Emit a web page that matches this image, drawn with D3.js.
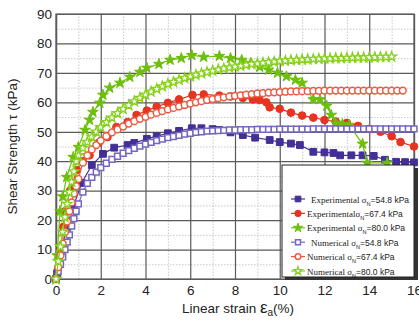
<!DOCTYPE html>
<html>
<head>
<meta charset="utf-8">
<script src="https://cdn.jsdelivr.net/npm/d3@7"></script>
<style>
  body { margin: 0; background: #fff; }
  text { font-family: "Liberation Sans", Arial, sans-serif; }
</style>
</head>
<body>
<div id="container"></div>
<script>
/* CONSTANTS AND GLOBALS */
const width = 419;
const height = 323;
const margin = { top: 14, right: 5, bottom: 44, left: 56 };

// EXPERIMENTAL SERIES - [strain %, shear strength kPa]
const exp548 = [[0,0],[0.05,2],[0.27,10],[0.48,17.7],[0.77,24.5],[1.15,32.6],[1.6,38.7],[2.1,42.5],[2.6,44.6],
  [3.2,45.5],[3.5,46.2],[4.06,47.6],[4.5,48.5],[5,49.5],[5.5,50.3],[6.07,51.2],[6.5,51.2],[7,50.9],[7.3,50.6],
  [7.8,49.8],[8.35,48.9],[8.9,48],[9.55,47.2],[10,46.5],[10.5,46],[10.9,45.5],[11.5,43.2],[12,43],[12.4,42.8],
  [12.7,42],[13.2,42],[13.7,42],[14.2,41.8],[14.7,40.5],[15.2,39.8],[15.6,39.7],[16,39.6]];

const exp674 = [[0,0],[0.1,4],[0.2,10],[0.33,17.7],[0.4,23],[0.63,30],[0.93,37],[1.2,40],[1.5,42],[1.9,46.2],
  [2.3,48.2],[2.7,51.6],[3.2,53.3],[3.6,55.7],[4.06,57.2],[4.5,58.5],[5,59.8],[5.5,61],[6.1,62.5],[6.6,62.7],
  [7.3,62.3],[7.8,62],[8.35,61.5],[8.8,61],[9.1,60.8],[9.4,60],[9.55,58.3],[10,57.8],[10.5,56.5],[11,55.5],
  [11.5,54.8],[12,54],[12.5,53.5],[13,53],[13.5,52],[14,51],[14.5,50],[15,48.5],[15.4,46.5],[16,45]];

const exp800 = [[0,0],[0.05,8],[0.18,23],[0.3,28],[0.48,34.6],[0.77,41.4],[1,44.8],[1.3,50.6],[1.5,54],
  [1.65,56.7],[1.96,59.8],[2.1,62.5],[2.4,64.9],[2.86,66.6],[3.3,68.6],[3.75,70.3],[4.06,71.7],[4.6,73],
  [5.1,74.4],[5.6,75],[6.07,76],[6.6,75.4],[7.3,75.7],[7.8,75],[8.3,74.4],[8.7,73.3],[9.1,72],[9.5,71],
  [9.9,70],[10.3,68.8],[10.7,67.6],[11,66.6],[11.5,61],[11.8,61],[12.1,58.8],[12.3,55.7],[12.5,53],
  [12.8,52.6],[13.1,52.3],[13.7,45.9],[13.9,39.4],[14.8,39.4]];

// NUMERICAL SERIES - shared strain values, shear strength per normal stress
const numStrain = [0,0.1,0.2,0.3,0.4,0.5,0.6,0.7,0.8,0.9,1,1.2,1.4,1.6,1.8,
  2,2.25,2.5,2.75,3,3.25,3.5,3.75,4,4.25,4.5,4.75,5,5.25,5.5,5.75,6,6.25,6.5,6.75,7,7.25,7.5,7.75,
  8,8.25,8.5,8.75,9,9.25,9.5,9.75,10,10.25,10.5,10.75,11,11.25,11.5,11.75,12,12.25,12.5,12.75,
  13,13.25,13.5,13.75,14,14.25,14.5,14.75,15,15.25,15.5,15.75,16];

const num548 = [0,2.5,5,7.5,10,12.5,15,18,20.5,23,25.5,29.5,32.5,34.5,36.3,
  37.8,39.3,40.6,41.7,42.7,43.6,44.4,45.1,45.8,46.4,47,47.5,48,48.4,48.8,49.2,49.5,49.8,50,50.2,50.3,50.4,50.5,50.6,
  50.6,50.7,50.7,50.7,50.8,50.8,50.8,50.8,50.9,50.9,50.9,50.9,50.9,50.9,51,51,51,51,51,51,
  51,51,51,51,51,51,51,51,51,51,51,51,51];

const num674 = [0,4,8,12,16,19.5,23,26,29,31.5,34,39.5,42,44,45.5,
  47,48.5,49.8,50.8,51.8,52.8,53.6,54.4,55.1,55.8,56.4,57,57.6,58.1,58.6,59.1,59.6,60,60.4,60.8,61.1,61.4,61.7,62,
  62.2,62.4,62.6,62.8,63,63.1,63.3,63.4,63.5,63.6,63.7,63.7,63.8,63.8,63.9,63.9,64,64,64,64,
  64,64,64,64,64,64,64,64,64,64,64];

const num800 = [0,6,11,16,21,25.5,29.5,33,36.5,40,42,44.5,46.5,48.3,50,
  51.5,53.2,54.8,56.3,57.7,59,60.3,61.5,62.6,63.6,64.5,65.4,66.2,66.9,67.6,68.2,68.8,69.3,69.8,70.3,70.7,71.1,71.5,71.8,
  72.1,72.4,72.7,73,73.2,73.4,73.6,73.8,74,74.1,74.3,74.4,74.5,74.6,74.7,74.8,74.9,74.9,75,75,
  75.1,75.1,75.2,75.2,75.3,75.3,75.4,75.4,75.5];

const legendNames = ["Experimental", "Experimental", "Experimental", "Numerical", "Numerical", "Numerical"];
const legendStress = ["=54.8 kPa", "=67.4 kPa", "=80.0 kPa", "=54.8 kPa", "=67.4 kPa", "=80.0 kPa"];

const pairs = ys => ys.map((y, i) => [numStrain[i], y]);

// series styling, same order as the legend
const series = [
  { data: exp548, shape: d3.symbolSquare, size: 46, color: "#432f96", fill: "#432f96", sw: 1 },
  { data: exp674, shape: d3.symbolCircle, size: 46, color: "#e5341f", fill: "#e5341f", sw: 1 },
  { data: exp800, shape: d3.symbolStar, size: 36, color: "#6cbf0a", fill: "#6cbf0a", sw: 1 },
  { data: pairs(num548), shape: d3.symbolSquare, size: 34, color: "#7566bf", fill: "#fff", sw: 1.5 },
  { data: pairs(num674), shape: d3.symbolCircle, size: 36, color: "#ec5a42", fill: "#fff", sw: 1.5 },
  { data: pairs(num800), shape: d3.symbolStar, size: 30, color: "#86d11c", fill: "#fff", sw: 1.3 }
];

// CREATE SVG
const svg = d3.select("#container")
  .append("svg")
  .attr("width", width)
  .attr("height", height);

/* SCALES */
const xScale = d3.scaleLinear()
  .domain([0, 16])
  .range([margin.left, width - margin.right]);

const yScale = d3.scaleLinear()
  .domain([0, 90])
  .range([height - margin.bottom, margin.top]);

// MINOR GRID (dotted)
svg.append("g")
  .attr("transform", "translate(0," + (height - margin.bottom) + ")")
  .call(d3.axisBottom(xScale).tickValues(d3.range(1, 16, 2)).tickSize(-(height - margin.top - margin.bottom)).tickFormat(""))
  .call(g => g.select(".domain").remove())
  .call(g => g.selectAll("line").attr("stroke", "#c8c8c8").attr("stroke-dasharray", "1.5,1.5"));

svg.append("g")
  .attr("transform", "translate(" + margin.left + ",0)")
  .call(d3.axisLeft(yScale).tickValues(d3.range(5, 90, 10)).tickSize(-(width - margin.left - margin.right)).tickFormat(""))
  .call(g => g.select(".domain").remove())
  .call(g => g.selectAll("line").attr("stroke", "#c8c8c8").attr("stroke-dasharray", "1.5,1.5"));

// MAJOR GRID + AXES
const xAxis = svg.append("g")
  .attr("transform", "translate(0," + (height - margin.bottom) + ")")
  .call(d3.axisBottom(xScale).tickValues(d3.range(0, 17, 2)).tickSize(-(height - margin.top - margin.bottom)).tickPadding(6));

const yAxis = svg.append("g")
  .attr("transform", "translate(" + margin.left + ",0)")
  .call(d3.axisLeft(yScale).tickValues(d3.range(0, 91, 10)).tickSize(-(width - margin.left - margin.right)).tickPadding(4));

[xAxis, yAxis].forEach(g => {
  g.selectAll("line").attr("stroke", "#5a5a5a").attr("stroke-width", 1.2);
  g.select(".domain").attr("stroke", "#5a5a5a").attr("stroke-width", 1.2);
  g.selectAll("text").attr("fill", "#222").style("font-size", "13.5px");
});

// plot frame
svg.append("rect")
  .attr("x", margin.left).attr("y", margin.top)
  .attr("width", width - margin.left - margin.right)
  .attr("height", height - margin.top - margin.bottom)
  .attr("fill", "none").attr("stroke", "#5a5a5a").attr("stroke-width", 1.2);

// DRAW SERIES
const line = d3.line().x(d => xScale(d[0])).y(d => yScale(d[1]));

series.forEach(s => {
  svg.append("path")
    .datum(s.data)
    .attr("d", line)
    .attr("fill", "none")
    .attr("stroke", s.color)
    .attr("stroke-width", 1.2);

  svg.selectAll(null)
    .data(s.data)
    .join("path")
    .attr("transform", d => `translate(${xScale(d[0])},${yScale(d[1])})`)
    .attr("d", d3.symbol(s.shape, s.size))
    .attr("fill", s.fill)
    .attr("stroke", s.color)
    .attr("stroke-width", s.sw);
});

// LEGEND
const lg = svg.append("g");
lg.append("rect").attr("x", 285).attr("y", 168).attr("width", 133).attr("height", 112).attr("fill", "#333");
lg.append("rect").attr("x", 282).attr("y", 165).attr("width", 132).attr("height", 112)
  .attr("fill", "#fff").attr("stroke", "#222").attr("stroke-width", 1);

series.forEach((s, i) => {
  const cy = 199 + i * 14.4;
  lg.append("line").attr("x1", 291).attr("x2", 305).attr("y1", cy).attr("y2", cy)
    .attr("stroke", s.color).attr("stroke-width", 1.2);
  lg.append("path")
    .attr("transform", `translate(298,${cy})`)
    .attr("d", d3.symbol(s.shape, s.size * 0.7))
    .attr("fill", s.fill).attr("stroke", s.color).attr("stroke-width", s.sw);

  const t = lg.append("text")
    .attr("x", i === 1 || i === 2 || i === 4 || i === 5 ? 307 : 311)
    .attr("y", cy + 3.5)
    .style("font-size", "8.5px")
    .attr("fill", "#222");
  t.append("tspan").style("font-family", "'Liberation Serif', 'Times New Roman', serif")
    .style("font-size", "9px")
    .text(legendNames[i] + (i === 1 ? "" : " ") + "σ");
  t.append("tspan").attr("dy", 3).style("font-size", "5.5px").text("N");
  t.append("tspan").attr("dy", -3).text(legendStress[i]);
});

// AXIS TITLES
svg.append("text")
  .attr("transform", "rotate(-90)")
  .attr("x", -((height - margin.bottom + margin.top) / 2))
  .attr("y", 17)
  .attr("text-anchor", "middle")
  .style("font-size", "13.5px")
  .attr("fill", "#222")
  .text("Shear Strength τ (kPa)");

const xt = svg.append("text")
  .attr("x", 238)
  .attr("y", 313)
  .attr("text-anchor", "middle")
  .style("font-size", "13.5px")
  .attr("fill", "#222");
xt.append("tspan").text("Linear strain ");
xt.append("tspan").style("font-size", "17px").text("ε");
xt.append("tspan").attr("dy", 3).style("font-size", "10px").text("a");
xt.append("tspan").attr("dy", -3).text("(%)");
</script>
</body>
</html>
